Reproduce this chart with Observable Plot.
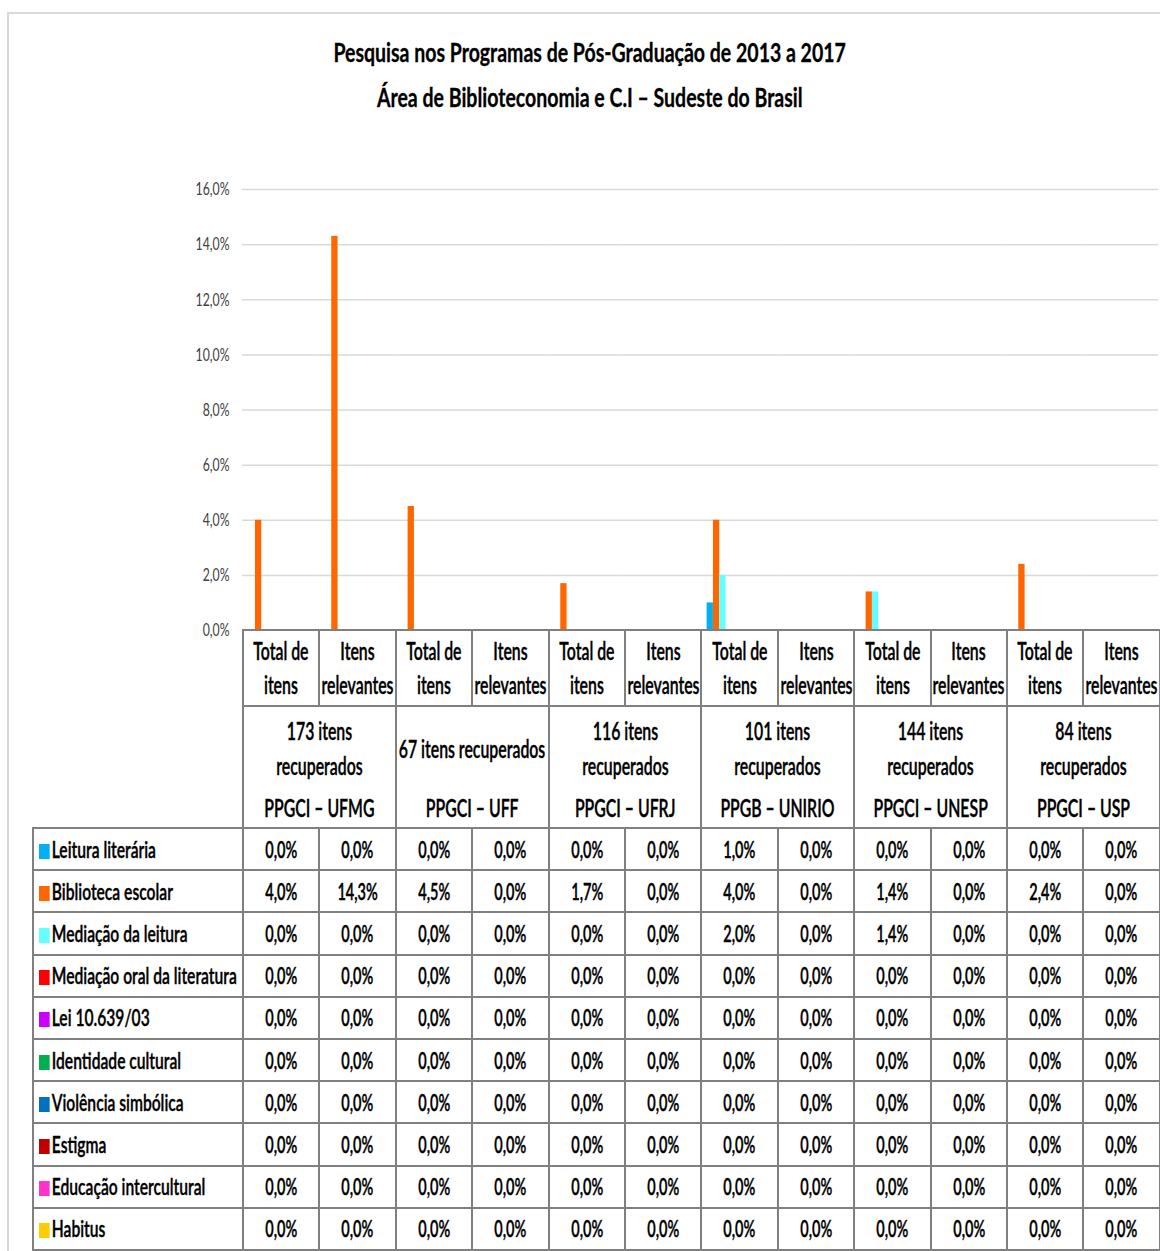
<!DOCTYPE html>
<html>
<head>
<meta charset="utf-8">
<script src="https://cdn.jsdelivr.net/npm/d3@7"></script>
<script src="https://cdn.jsdelivr.net/npm/@observablehq/plot@0.6"></script>
<style>
  body { margin: 0; background: #fff; font-family: Lato, "Open Sans", sans-serif; color: #000; }
  #page { position: relative; width: 1160px; height: 1251px; overflow: hidden; }
  #frame { position: absolute; left: 7px; top: 12px; width: 1200px; height: 1300px; border-left: 2px solid #d9d9d9; border-top: 2px solid #d9d9d9; }
  #title { position: absolute; left: 0; width: 1180px; top: 30px; font-weight: bold; font-size: 26px; line-height: 45px; -webkit-text-stroke: 0.3px #000; }
  #title .line { display: flex; justify-content: center; }
  .sq { display: inline-block; flex-shrink: 0; white-space: nowrap; transform-origin: 50% 50%; }
  .sql { display: inline-block; white-space: nowrap; transform-origin: 0 50%; }
  #chart { position: absolute; left: 0; top: 0; }
  #table { position: absolute; left: 32px; top: 629px; width: 1127px; border-collapse: collapse; table-layout: fixed; font-weight: 600; -webkit-text-stroke: 0.4px #000; }
  #table td { border: 2px solid #808080; padding: 0; font-size: 22px; overflow: visible; }
  #table td.blank { border: none; }
  #table td.grp { border-top: none; vertical-align: top; }
  #table td.lab { text-align: left; padding-left: 5px; }
  .c { display: flex; justify-content: center; align-items: center; text-align: center; }
  .sw { display: inline-block; width: 15px; height: 15px; margin-right: 3px; vertical-align: -1px; -webkit-text-stroke: 0; }
  .hdr { font-size: 24px; line-height: 34px; height: 74px; }
  .cnt { height: 82px; font-size: 24px; line-height: 35px; }
  .prog { height: 38px; font-size: 24px; line-height: 38px; }
</style>
</head>
<body>
<div id="page">
  <div id="frame"></div>
  <div id="chart"></div>
  <div id="title"></div>
  <table id="table"></table>
</div>
<script>
const titleLines = ["Pesquisa nos Programas de Pós-Graduação de 2013 a 2017", "Área de Biblioteconomia e C.I – Sudeste do Brasil"];
const programs = ["PPGCI – UFMG", "PPGCI – UFF", "PPGCI – UFRJ", "PPGB – UNIRIO", "PPGCI – UNESP", "PPGCI – USP"];
const itemCountLines = [["173 itens", "recuperados"], ["67 itens recuperados"], ["116 itens", "recuperados"], ["101 itens", "recuperados"], ["144 itens", "recuperados"], ["84 itens", "recuperados"]];
const colTypes = [["Total de", "itens"], ["Itens", "relevantes"]];
const seriesNames = ["Leitura literária", "Biblioteca escolar", "Mediação da leitura", "Mediação oral da literatura", "Lei 10.639/03", "Identidade cultural", "Violência simbólica", "Estigma", "Educação intercultural", "Habitus"];
const seriesColors = ["#00b0f0", "#ff6600", "#66ffff", "#ff0000", "#cc00ff", "#00b050", "#0070c0", "#c00000", "#ff33cc", "#ffcc00"];
// values per column: UFMG total, UFMG rel, UFF total, UFF rel, UFRJ total, UFRJ rel, UNIRIO total, UNIRIO rel, UNESP total, UNESP rel, USP total, USP rel
const leituraLiteraria      = [0, 0, 0, 0, 0, 0, 1.0, 0, 0, 0, 0, 0];
const bibliotecaEscolar     = [4.0, 14.3, 4.5, 0, 1.7, 0, 4.0, 0, 1.4, 0, 2.4, 0];
const mediacaoLeitura       = [0, 0, 0, 0, 0, 0, 2.0, 0, 1.4, 0, 0, 0];
const mediacaoOral          = [0, 0, 0, 0, 0, 0, 0, 0, 0, 0, 0, 0];
const lei10639              = [0, 0, 0, 0, 0, 0, 0, 0, 0, 0, 0, 0];
const identidadeCultural    = [0, 0, 0, 0, 0, 0, 0, 0, 0, 0, 0, 0];
const violenciaSimbolica    = [0, 0, 0, 0, 0, 0, 0, 0, 0, 0, 0, 0];
const estigma               = [0, 0, 0, 0, 0, 0, 0, 0, 0, 0, 0, 0];
const educacaoIntercultural = [0, 0, 0, 0, 0, 0, 0, 0, 0, 0, 0, 0];
const habitus               = [0, 0, 0, 0, 0, 0, 0, 0, 0, 0, 0, 0];
const seriesValues = [leituraLiteraria, bibliotecaEscolar, mediacaoLeitura, mediacaoOral, lei10639, identidadeCultural, violenciaSimbolica, estigma, educacaoIntercultural, habitus];
const yTicks = [0, 2, 4, 6, 8, 10, 12, 14, 16];

// horizontal squeeze factors (the reference uses a narrow font)
const S_TITLE = 0.75, S_HDR = 0.66, S_CELL = 0.66, S_LAB = 0.71, S_TICK = 0.68;

const colKeys = programs.flatMap(p => [p + " | total", p + " | rel"]);
const fmt = v => d3.format(".1f")(v).replace(".", ",") + "%";
const sq = (html, s) => `<span class="sq" style="transform:scaleX(${s})">${html}</span>`;

const data = [];
seriesNames.forEach((s, si) => seriesValues[si].forEach((v, ci) => data.push({series: s, col: colKeys[ci], value: v})));

document.getElementById("title").innerHTML = titleLines.map(t => `<div class="line">${sq(t, S_TITLE)}</div>`).join("");

const chart = Plot.plot({
  width: 1160,
  height: 652,
  marginTop: 189,
  marginBottom: 22,
  marginLeft: 242,
  marginRight: 2,
  style: {fontFamily: 'Lato, "Open Sans", sans-serif', background: "transparent", overflow: "visible"},
  fx: {domain: colKeys, padding: 0, round: false, axis: null},
  x: {domain: seriesNames, paddingInner: 0, paddingOuter: 1.05, round: false, axis: null},
  y: {domain: [0, 16], axis: null, label: null},
  color: {domain: seriesNames, range: seriesColors},
  marks: [
    Plot.ruleY(yTicks.filter(d => d > 0), {stroke: "#d9d9d9", strokeWidth: 1.5}),
    Plot.axisY({ticks: yTicks, tickFormat: fmt, tickSize: 0, tickPadding: 13, line: true, stroke: "#bfbfbf", strokeWidth: 1.5, fill: "#404040", fontSize: 18, label: null}),
    Plot.barY(data, {fx: "col", x: "series", y: "value", fill: "series"})
  ]
});
document.getElementById("chart").appendChild(chart);
chart.querySelectorAll("text").forEach(t => {
  const w = t.getComputedTextLength();
  if (w > 0) { t.setAttribute("textLength", w * S_TICK); t.setAttribute("lengthAdjust", "spacingAndGlyphs"); }
});

// data table
const table = document.getElementById("table");
const colgroup = document.createElement("colgroup");
colgroup.innerHTML = `<col style="width:210px">` + colKeys.map(() => `<col style="width:76.42px">`).join("");
table.appendChild(colgroup);

let tr = document.createElement("tr");
tr.innerHTML = `<td class="blank"></td>` + colKeys.map((k, i) => `<td><div class="c hdr">${sq(colTypes[i % 2].join("<br>"), S_HDR)}</div></td>`).join("");
table.appendChild(tr);

tr = document.createElement("tr");
tr.innerHTML = `<td class="blank"></td>` + programs.map((p, i) => `<td class="grp" colspan="2"><div class="c cnt">${sq(itemCountLines[i].join("<br>"), S_HDR)}</div><div class="c prog">${sq(p, S_HDR)}</div></td>`).join("");
table.appendChild(tr);

seriesNames.forEach((s, si) => {
  const r = document.createElement("tr");
  r.style.height = "42.2px";
  r.innerHTML = `<td class="lab"><span class="sql" style="transform:scaleX(${S_LAB})"><span class="sw" style="background:${seriesColors[si]}"></span>${s}</span></td>` +
    seriesValues[si].map(v => `<td><div class="c">${sq(fmt(v), S_CELL)}</div></td>`).join("");
  table.appendChild(r);
});
</script>
</body>
</html>
